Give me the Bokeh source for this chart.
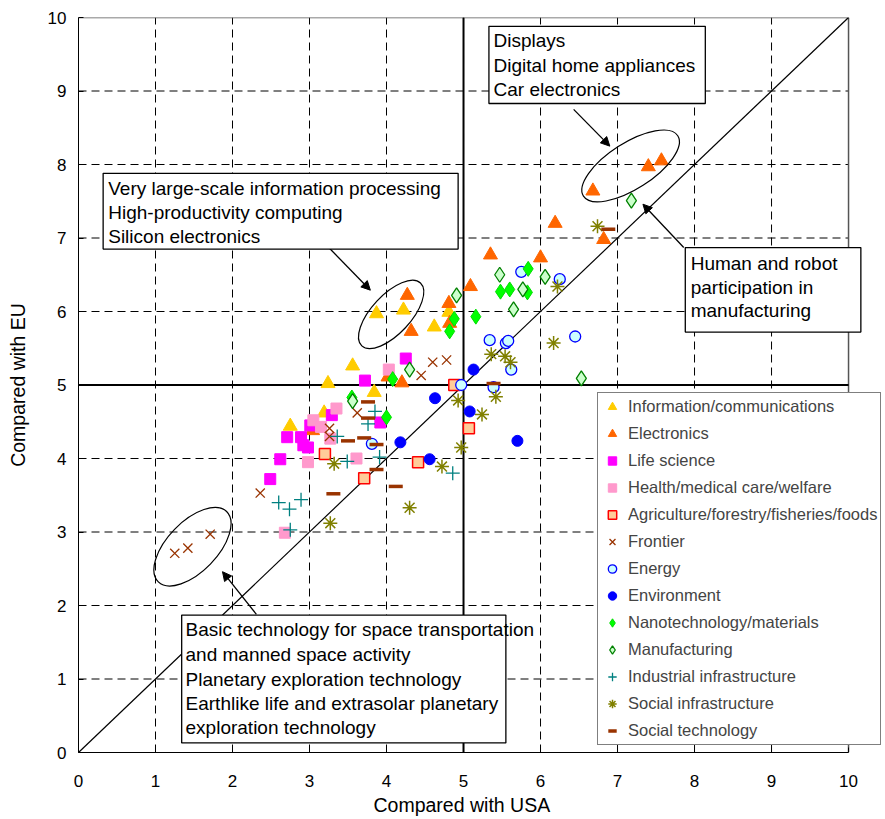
from bokeh.plotting import figure
from bokeh.models import (Legend, LegendItem, Label, BoxAnnotation, Arrow,
                          NormalHead, FixedTicker, Title)
from bokeh.embed import file_html
from bokeh.resources import INLINE

# ---------------- data (Compared with USA, Compared with EU) ----------------
info_x = [3.87, 4.22, 4.81, 4.62, 3.56, 3.24, 3.84, 3.19, 2.75]
info_y = [5.97, 6.02, 5.99, 5.79, 5.26, 5.02, 4.90, 4.62, 4.44]

elec_x = [4.27, 4.32, 5.09, 4.81, 4.82, 4.02, 4.20, 3.04, 5.35, 6.00, 6.19, 6.82, 6.68, 7.40, 7.57]
elec_y = [6.22, 5.73, 6.34, 6.11, 5.84, 5.11, 5.03, 4.38, 6.77, 6.73, 7.20, 6.98, 7.64, 7.97, 8.05]

life_x = [4.25, 3.72, 3.92, 3.29, 3.01, 2.71, 2.89, 2.92, 2.98, 2.62, 2.49]
life_y = [5.36, 5.06, 4.49, 4.59, 4.45, 4.29, 4.29, 4.18, 4.15, 3.99, 3.72]

health_x = [4.03, 3.35, 3.05, 3.15, 3.27, 2.98, 3.61, 2.68]
health_y = [5.21, 4.68, 4.52, 4.43, 4.27, 3.95, 4.00, 2.99]

agri_x = [4.88, 3.20, 4.41, 3.71, 5.07]
agri_y = [5.00, 4.06, 3.95, 3.73, 4.41]

front_x = [1.25, 1.42, 1.71, 2.36, 3.62, 3.26, 3.26, 4.45, 4.60, 4.78]
front_y = [2.71, 2.78, 2.97, 3.53, 4.62, 4.41, 4.30, 5.13, 5.31, 5.34]

energy_x = [4.97, 3.81, 5.75, 6.25, 5.34, 5.55, 5.58, 6.45, 5.62, 5.39]
energy_y = [5.00, 4.20, 6.54, 6.44, 5.61, 5.57, 5.60, 5.66, 5.21, 4.97]

env_x = [5.13, 4.63, 5.08, 4.18, 4.56, 5.70]
env_y = [5.21, 4.82, 4.64, 4.22, 3.99, 4.24]

nano_x = [5.84, 5.48, 5.60, 5.83, 5.16, 4.88, 4.82, 4.08, 3.55, 4.00]
nano_y = [6.58, 6.27, 6.30, 6.26, 5.93, 5.90, 5.73, 5.08, 4.83, 4.56]

manu_x = [4.91, 4.30, 3.56, 5.47, 6.06, 5.77, 5.65, 6.53, 7.18]
manu_y = [6.22, 5.21, 4.78, 6.50, 6.47, 6.30, 6.03, 5.09, 7.51]

indus_x = [3.85, 3.76, 3.36, 3.49, 3.91, 4.86, 2.60, 2.74, 2.89, 2.75]
indus_y = [4.64, 4.47, 4.30, 3.96, 4.02, 3.80, 3.40, 3.31, 3.44, 3.03]

socinf_x = [4.93, 3.32, 4.72, 4.97, 4.30, 3.27, 5.36, 5.54, 5.61, 6.17, 6.22, 6.74, 5.42, 5.24]
socinf_y = [4.79, 3.93, 3.89, 4.15, 3.33, 3.12, 5.42, 5.39, 5.31, 5.57, 6.34, 7.16, 4.84, 4.60]

soctech_x = [3.76, 3.76, 3.50, 3.71, 3.87, 3.87, 3.31, 4.12, 5.39, 6.88]
soctech_y = [4.77, 4.55, 4.24, 4.28, 4.19, 3.85, 3.52, 3.62, 5.02, 7.12]

ticks = [0, 1, 2, 3, 4, 5, 6, 7, 8, 9, 10]
axis_min, axis_max = 0, 10

x_title = "Compared with USA"
y_title = "Compared with EU"

# annotation texts
box_texts = [
    ["Very large-scale information processing", "High-productivity computing", "Silicon electronics"],
    ["Displays", "Digital home appliances", "Car electronics"],
    ["Human and robot", "participation in", "manufacturing"],
    ["Basic technology for space transportation", "and manned space activity",
     "Planetary exploration technology", "Earthlike life and extrasolar planetary",
     "exploration technology"],
]

FONT = "Liberation Sans"

# the frame extends past x=10 so that the legend and a text box may overhang the plot area
p = figure(width=885, height=819, x_range=(0, 10.48), y_range=(0, 10),
           output_backend="svg", toolbar_location=None,
           min_border_left=78, min_border_right=0, min_border_top=17, min_border_bottom=67)

p.background_fill_color = "white"
p.border_fill_color = "white"
p.outline_line_color = None
p.xgrid.visible = False
p.ygrid.visible = False

for ax in (p.xaxis[0], p.yaxis[0]):
    ax.ticker = FixedTicker(ticks=ticks)
    ax.bounds = (axis_min, axis_max)
    ax.major_label_text_font = FONT
    ax.major_label_text_font_size = "17px"
    ax.major_label_text_color = "black"
    ax.axis_label_text_font = FONT
    ax.axis_label_text_font_size = "19.5px"
    ax.axis_label_text_font_style = "normal"
    ax.axis_label_text_color = "black"
    ax.major_tick_in = 5
    ax.major_tick_out = 0
    ax.minor_tick_in = 0
    ax.minor_tick_out = 0
    ax.axis_line_color = "black"
    ax.major_tick_line_color = "black"

p.yaxis.axis_label = y_title
p.xaxis.major_label_standoff = 22
p.yaxis.major_label_standoff = 12
p.yaxis.axis_label_standoff = 16

# x-axis title centred under 0..10 rather than under the whole frame
p.add_layout(Title(text=x_title, align="left", offset=295, standoff=4,
                   text_font=FONT, text_font_size="19.5px", text_font_style="normal",
                   text_color="black"), "below")

# dashed grid and plot-area border, limited to 0..10
inner = ticks[1:-1]
p.segment(x0=inner, y0=[axis_min] * len(inner), x1=inner, y1=[axis_max] * len(inner),
          line_color="black", line_dash="8 5", line_width=1)
p.segment(x0=[axis_min] * len(inner), y0=inner, x1=[axis_max] * len(inner), y1=inner,
          line_color="black", line_dash="8 5", line_width=1)
p.segment(x0=[axis_max, axis_min], y0=[axis_min, axis_max], x1=[axis_max, axis_max],
          y1=[axis_max, axis_max], line_color="#555555", line_width=1.5)

# quadrant lines and diagonal
p.segment(x0=[5, 0], y0=[0, 5], x1=[5, 10], y1=[10, 5], line_color="black", line_width=2)
p.line([axis_min, axis_max], [axis_min, axis_max], line_color="black", line_width=1.2)

# ---------------- series ----------------
r_info = p.scatter(info_x, info_y, marker="triangle", size=14, fill_color="#FFCC00", line_color="#FFCC00")
r_elec = p.scatter(elec_x, elec_y, marker="triangle", size=14, fill_color="#FF6600", line_color="#FF6600")
r_life = p.scatter(life_x, life_y, marker="square", size=11, fill_color="#FF00FF", line_color="#FF00FF")
r_health = p.scatter(health_x, health_y, marker="square", size=11, fill_color="#FF99CC", line_color="#FF99CC")
r_agri = p.scatter(agri_x, agri_y, marker="square", size=11, fill_color="#FFCC99", line_color="#FF0000", line_width=1.5)
r_front = p.scatter(front_x, front_y, marker="x", size=13, line_color="#993300", line_width=1.3)
r_energy = p.scatter(energy_x, energy_y, marker="circle", size=11, fill_color="#CCFFFF", line_color="#0000FF", line_width=1.3)
r_env = p.scatter(env_x, env_y, marker="circle", size=11, fill_color="#0000FF", line_color="#0000FF")
r_nano = p.scatter(nano_x, nano_y, marker="diamond", size=15, fill_color="#00FF00", line_color="#00DD00")
r_manu = p.scatter(manu_x, manu_y, marker="diamond", size=15, fill_color="#CCFFCC", line_color="#008000", line_width=1.3)
r_indus = p.scatter(indus_x, indus_y, marker="cross", size=14, line_color="#008080", line_width=1.3)
r_socinf = p.scatter(socinf_x, socinf_y, marker="asterisk", size=14, line_color="#808000", line_width=1.5)
r_soctech = p.scatter(soctech_x, soctech_y, marker="dash", size=14, line_color="#993300", line_width=3.5)

# ---------------- ellipses ----------------
ell_x = [4.06, 7.17, 1.48]
ell_y = [5.96, 7.98, 2.80]
ell_w = [86, 112, 98]
ell_h = [39, 46, 50]
ell_a = [0.82, 0.57, 0.8]
p.ellipse(ell_x, ell_y, width=ell_w, height=ell_h, angle=ell_a,
          width_units="screen", height_units="screen",
          fill_alpha=0, line_color="black", line_width=1.2)

# ---------------- arrows ----------------
arrows = [((3.25, 6.87), (3.79, 6.29)),
          ((6.43, 8.75), (6.90, 8.25)),
          ((7.86, 6.87), (7.33, 7.46)),
          ((2.31, 1.88), (1.87, 2.46))]
for (xs, ys), (xe, ye) in arrows:
    p.add_layout(Arrow(x_start=xs, y_start=ys, x_end=xe, y_end=ye, line_width=1.3,
                       line_color="black",
                       end=NormalHead(size=9, fill_color="black", line_color="black")))

# ---------------- text boxes ----------------
boxes = [  # left, right, bottom, top (data units)
    (0.32, 4.93, 6.85, 7.88),
    (5.33, 8.14, 8.83, 9.88),
    (7.88, 10.16, 5.72, 6.87),
    (1.34, 5.55, 0.13, 1.87),
]
text_x = [0.386, 5.39, 7.95, 1.39]
text_y = [[7.67, 7.35, 7.02], [9.69, 9.35, 9.02], [6.65, 6.33, 6.01],
          [1.67, 1.34, 1.00, 0.67, 0.34]]
for (l, r, b, t), tx, tys, lines in zip(boxes, text_x, text_y, box_texts):
    p.add_layout(BoxAnnotation(left=l, right=r, bottom=b, top=t, fill_color="white",
                               fill_alpha=1, line_color="black", line_width=1.3,
                               line_alpha=1))
    for ty, s in zip(tys, lines):
        p.add_layout(Label(x=tx, y=ty, text=s, text_font=FONT, text_font_size="19px",
                           text_baseline="middle", text_align="left", text_color="black"))

# ---------------- legend ----------------
items = [
    ("Information/communications", r_info),
    ("Electronics", r_elec),
    ("Life science", r_life),
    ("Health/medical care/welfare", r_health),
    ("Agriculture/forestry/fisheries/foods", r_agri),
    ("Frontier", r_front),
    ("Energy", r_energy),
    ("Environment", r_env),
    ("Nanotechnology/materials", r_nano),
    ("Manufacturing", r_manu),
    ("Industrial infrastructure", r_indus),
    ("Social infrastructure", r_socinf),
    ("Social technology", r_soctech),
]
legend = Legend(items=[LegendItem(label=s, renderers=[r]) for s, r in items],
                location=(519, 7), label_text_font=FONT, label_text_font_size="16.5px",
                glyph_width=22, glyph_height=21, label_height=21, spacing=6,
                padding=3, margin=0, label_standoff=5,
                border_line_color="black", border_line_width=1,
                background_fill_color="white", background_fill_alpha=1)
p.add_layout(legend, "center")

open("out.html", "w").write(file_html(p, INLINE))
